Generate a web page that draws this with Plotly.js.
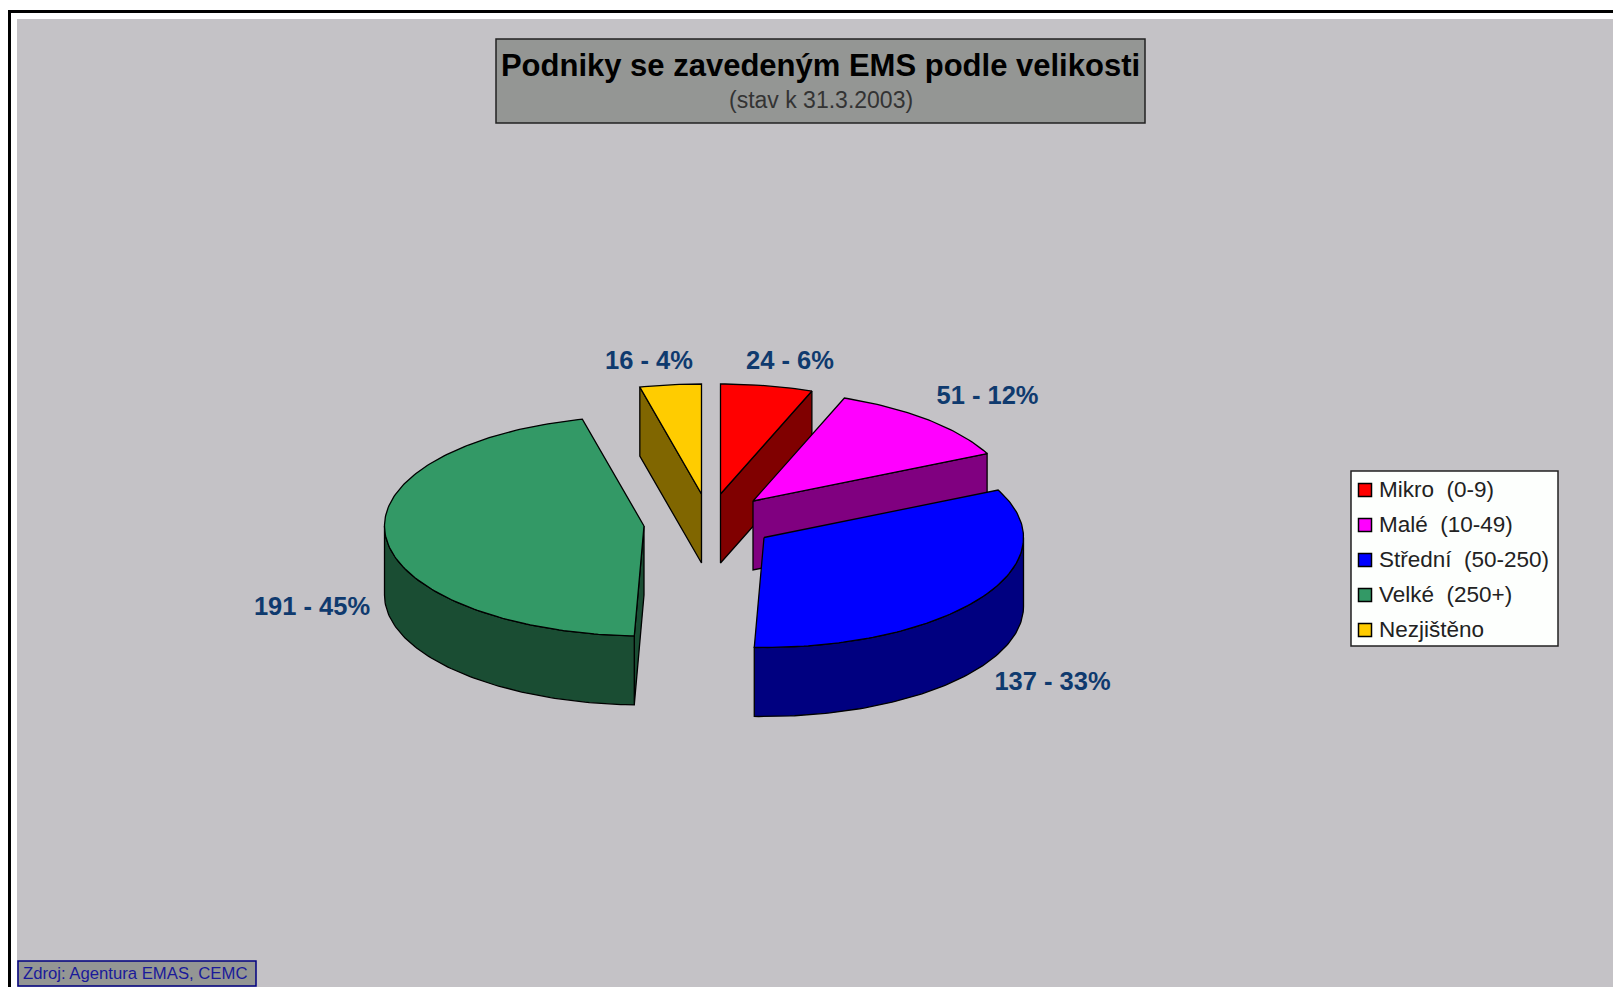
<!DOCTYPE html>
<html><head><meta charset="utf-8">
<script src="https://cdn.plot.ly/plotly-3.0.1.min.js"></script>
<style>html,body{margin:0;padding:0;background:#fff;overflow:hidden}#c{width:1613px;height:987px}</style>
</head><body><div id="c"></div>
<script>
// ---- data ----
const categories = ['Mikro  (0-9)', 'Malé  (10-49)', 'Střední  (50-250)', 'Velké  (250+)', 'Nezjištěno'];
const counts = [24, 51, 137, 191, 16];
const percents = [6, 12, 33, 45, 4];

// ---- styling / layout constants ----
const topColors = ['#FF0000', '#FF00FF', '#0000FF', '#339966', '#FFCC00'];
const sideColors = ['#800000', '#800080', '#000080', '#1A4D33', '#806600'];
const sliceTips = [[720.5, 494], [753, 501], [764, 537.5], [644, 526], [701.5, 494]];
const labelAnchors = [[790, 362.5], [987.5, 397.5], [1052.5, 683.5], [312, 608.5], [649, 362.5]];
const RX = 259.5, RY = 110, DEPTH = 69;
const labelColor = '#0F3A6E';
const FONT = '"Liberation Sans", Arial, sans-serif';

const total = counts.reduce((a, b) => a + b, 0);
const rad = d => d * Math.PI / 180;
const starts = [];
counts.reduce((acc, v, i) => { starts[i] = acc; return acc + v; }, 0);
const startDeg = starts.map(s => s / total * 360);
const endDeg = counts.map((v, i) => startDeg[i] + v / total * 360);
const rim = (tip, deg, dy = 0) => [tip[0] + RX * Math.sin(rad(deg)), tip[1] - RY * Math.cos(rad(deg)) + dy];
function arc(tip, a, b, dy = 0) {
  const n = Math.max(2, Math.ceil(Math.abs(b - a)));
  const out = [];
  for (let i = 0; i <= n; i++) out.push(rim(tip, a + (b - a) * i / n, dy));
  return out;
}
function poly(pts, color, name) {
  const closed = pts.concat([pts[0]]);
  return { type: 'scatter', mode: 'lines', x: closed.map(p => p[0]), y: closed.map(p => p[1]),
    fill: 'toself', fillcolor: color, line: { color: '#000', width: 1.3 }, hoverinfo: 'skip', showlegend: false, name };
}
function cutFace(i, deg) {
  const t = sliceTips[i];
  return poly([t, rim(t, deg), rim(t, deg, DEPTH), [t[0], t[1] + DEPTH]], sideColors[i], categories[i] + ' side');
}
function rimFace(i, a, b) {
  const t = sliceTips[i];
  return poly(arc(t, a, b).concat(arc(t, b, a, DEPTH)), sideColors[i], categories[i] + ' rim');
}
function topFace(i) {
  const t = sliceTips[i];
  return poly([t].concat(arc(t, startDeg[i], endDeg[i])), topColors[i], categories[i]);
}
const traces = [
  cutFace(4, startDeg[4]), topFace(4),
  cutFace(0, endDeg[0]), topFace(0),
  cutFace(1, endDeg[1]), topFace(1),
  rimFace(2, 90, endDeg[2]), topFace(2),
  cutFace(3, startDeg[3]), rimFace(3, startDeg[3], 270), topFace(3)
];
// value labels
traces.push({ type: 'scatter', mode: 'text', x: labelAnchors.map(p => p[0]), y: labelAnchors.map(p => p[1]),
  text: counts.map((v, i) => v + ' - ' + percents[i] + '%'), textposition: 'middle center',
  textfont: { family: FONT, size: 25.5, color: labelColor, weight: 700 }, hoverinfo: 'skip', showlegend: false });
// legend
const legendY = categories.map((c, i) => 490 + i * 35);
traces.push({ type: 'scatter', mode: 'markers', x: categories.map(() => 1365), y: legendY,
  marker: { symbol: 'square', size: 13, color: topColors, line: { color: '#000', width: 1.5 } },
  hoverinfo: 'skip', showlegend: false });
traces.push({ type: 'scatter', mode: 'text', x: categories.map(() => 1379), y: legendY.map(y => y + 1.5), text: categories,
  textposition: 'middle right', textfont: { family: FONT, size: 22.5, color: '#222' },
  hoverinfo: 'skip', showlegend: false });

const rect = (x0, y0, x1, y1, fill, lineColor, w) => ({ type: 'rect', layer: 'below', xref: 'x', yref: 'y', x0, y0, x1, y1,
  fillcolor: fill, line: { color: lineColor, width: w } });

const layout = {
  width: 1613, height: 987, margin: { l: 0, r: 0, t: 0, b: 0 }, paper_bgcolor: '#fff', plot_bgcolor: '#fff', showlegend: false,
  xaxis: { range: [0, 1613], visible: false, fixedrange: true },
  yaxis: { range: [987, 0], visible: false, fixedrange: true },
  title: { text: '<b>Podniky se zavedeným EMS podle velikosti</b>', x: 820.5 / 1613, xanchor: 'center', y: 1 - 65 / 987, yanchor: 'middle',
    font: { family: FONT, size: 31, color: '#000' } },
  shapes: [
    rect(9.5, 11.5, 1700, 1100, '#fff', '#000', 3),
    rect(17, 19, 1700, 1100, '#C4C2C6', 'rgba(0,0,0,0)', 0),
    rect(496, 39, 1145, 123, '#949694', '#222', 1.5),
    rect(1351, 471, 1558, 646, '#FDFFFD', '#222', 1.5),
    rect(18, 961, 256, 986, '#949694', '#000080', 1.5)
  ],
  annotations: [
    { text: '(stav k 31.3.2003)', xref: 'x', yref: 'y', x: 821, y: 100, showarrow: false, xanchor: 'center', yanchor: 'middle',
      font: { family: FONT, size: 23, color: '#333' } },
    { text: 'Zdroj: Agentura EMAS, CEMC', xref: 'x', yref: 'y', x: 134.5, y: 973, showarrow: false, xanchor: 'center', yanchor: 'middle',
      font: { family: FONT, size: 16.7, color: '#1a1a9a' } }
  ]
};
Plotly.newPlot('c', traces, layout, { displayModeBar: false, responsive: false });
</script></body></html>
